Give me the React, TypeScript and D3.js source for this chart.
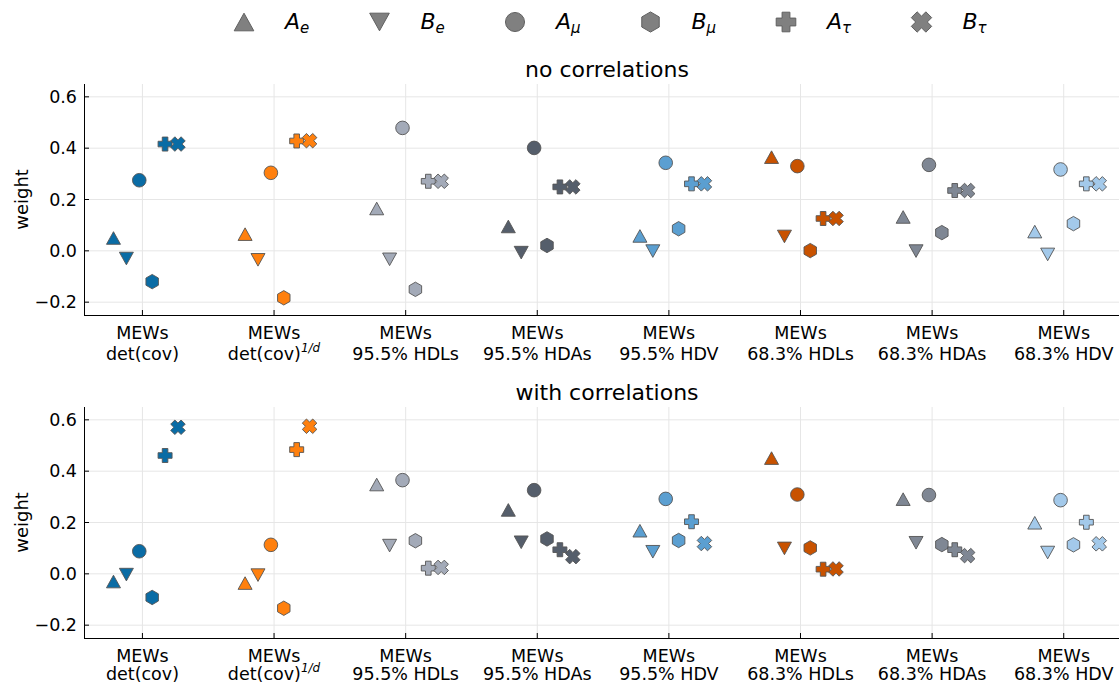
import React from 'react';
import * as d3 from 'd3';

// categories on the x axis (line 1 / line 2)
const categories = ['det(cov)', 'det(cov)^1/d', '95.5% HDLs', '95.5% HDAs', '95.5% HDV', '68.3% HDLs', '68.3% HDAs', '68.3% HDV'];
const groupColors = ['#0a6ca5', '#ff800e', '#a3aab8', '#555e6b', '#5b9fd1', '#c85200', '#7f8794', '#a3c9ea'];
const yTicks = [-0.2, 0.0, 0.2, 0.4, 0.6];

// series for "no correlations"
const aeNo = [0.05, 0.065, 0.165, 0.095, 0.058, 0.365, 0.132, 0.075];
const beNo = [-0.03, -0.035, -0.033, -0.007, -0.001, 0.056, -0.001, -0.014];
const amuNo = [0.275, 0.304, 0.479, 0.401, 0.343, 0.33, 0.335, 0.317];
const bmuNo = [-0.12, -0.183, -0.15, 0.021, 0.086, 0.001, 0.071, 0.106];
const atauNo = [0.416, 0.428, 0.271, 0.249, 0.261, 0.126, 0.235, 0.261];
const btauNo = [0.416, 0.429, 0.271, 0.249, 0.261, 0.126, 0.235, 0.261];

// series for "with correlations"
const aeWith = [-0.03, -0.036, 0.348, 0.249, 0.168, 0.451, 0.291, 0.199];
const beWith = [-0.003, -0.005, 0.11, 0.123, 0.086, 0.099, 0.121, 0.083];
const amuWith = [0.088, 0.113, 0.365, 0.326, 0.292, 0.309, 0.307, 0.287];
const bmuWith = [-0.092, -0.134, 0.129, 0.136, 0.13, 0.101, 0.114, 0.113];
const atauWith = [0.461, 0.484, 0.022, 0.094, 0.203, 0.018, 0.094, 0.201];
const btauWith = [0.571, 0.575, 0.025, 0.067, 0.118, 0.019, 0.071, 0.117];

const seriesNames = [
  { base: 'A', sub: 'e', shape: 'tri' },
  { base: 'B', sub: 'e', shape: 'dtri' },
  { base: 'A', sub: 'μ', shape: 'circle' },
  { base: 'B', sub: 'μ', shape: 'hex' },
  { base: 'A', sub: 'τ', shape: 'plus' },
  { base: 'B', sub: 'τ', shape: 'x' },
];

const panels = [
  { title: 'no correlations', top: 84, bottom: 315, label2: 45, series: [aeNo, beNo, amuNo, bmuNo, atauNo, btauNo] },
  { title: 'with correlations', top: 407, bottom: 638, label2: 42, series: [aeWith, beWith, amuWith, bmuWith, atauWith, btauWith] },
];

const FONT = 'DejaVu Sans, sans-serif';

function markerPath(shape: string, s: number): string {
  if (shape === 'tri') return `M0,${-6.3 * s}L${7 * s},${6.3 * s}L${-7 * s},${6.3 * s}Z`;
  if (shape === 'dtri') return `M0,${6.3 * s}L${7 * s},${-6.3 * s}L${-7 * s},${-6.3 * s}Z`;
  if (shape === 'circle') return d3.arc()({ innerRadius: 0, outerRadius: 6.8 * s, startAngle: 0, endAngle: 2 * Math.PI }) as string;
  if (shape === 'hex') {
    const pts = d3.range(6).map((k) => {
      const a = ((-90 + 60 * k) * Math.PI) / 180;
      return [Math.cos(a) * 7.2 * s, Math.sin(a) * 7.2 * s];
    });
    return 'M' + pts.map((p) => p.join(',')).join('L') + 'Z';
  }
  const a = 7 * s;
  const t = 2.8 * s;
  let pts = [
    [-t, -a], [t, -a], [t, -t], [a, -t], [a, t], [t, t], [t, a], [-t, a], [-t, t], [-a, t], [-a, -t], [-t, -t],
  ];
  if (shape === 'x') {
    const c = Math.SQRT1_2 * 1.05;
    pts = pts.map(([x, y]) => [(x - y) * c, (x + y) * c]);
  }
  return 'M' + pts.map((p) => p.join(',')).join('L') + 'Z';
}

const App = () => {
  const width = 1119;
  const height = 685;
  const left = 84;
  const right = 1119;

  const x = d3.scaleLinear().domain([-0.444, 7.42]).range([left, right]);
  const offsets = d3.range(6).map((k) => -0.22 + 0.098 * k);

  return (
    <svg width={width} height={height} style={{ position: 'absolute', left: 0, top: 0, background: '#fff' }} fontFamily={FONT}>
      {/* legend */}
      <g>
        {seriesNames.map((s, i) => {
          const cx = 244 + i * 135.5;
          return (
            <g key={i}>
              <path d={markerPath(s.shape, 1.4)} transform={`translate(${cx},22)`} fill="#808080" stroke="#606060" strokeWidth={1} />
              <text x={cx + 41} y={29} fontSize={22} fontStyle="italic" fill="#000">
                {s.base}
                <tspan fontSize={15} dy={4}>{s.sub}</tspan>
              </text>
            </g>
          );
        })}
      </g>

      {panels.map((p, pi) => {
        const y = d3.scaleLinear().domain([-0.25, 0.65]).range([p.bottom, p.top]);
        return (
          <g key={pi}>
            <text x={607} y={p.top - 7} fontSize={22} textAnchor="middle">{p.title}</text>
            {/* grid */}
            {yTicks.map((t) => (
              <line key={'gy' + t} x1={left} x2={right} y1={y(t)} y2={y(t)} stroke="#e6e6e6" strokeWidth={1} />
            ))}
            {categories.map((c, i) => (
              <line key={'gx' + i} x1={x(i)} x2={x(i)} y1={p.top} y2={p.bottom} stroke="#e6e6e6" strokeWidth={1} />
            ))}
            {/* axes */}
            <line x1={left + 0.5} x2={left + 0.5} y1={p.top} y2={p.bottom} stroke="#000" strokeWidth={1} />
            <line x1={left} x2={right} y1={p.bottom + 0.5} y2={p.bottom + 0.5} stroke="#000" strokeWidth={1} />
            {yTicks.map((t) => (
              <g key={'ty' + t}>
                <line x1={left} x2={left + 5} y1={y(t)} y2={y(t)} stroke="#000" />
                <text x={77} y={y(t) + 6} fontSize={17.5} textAnchor="end">
                  {t < 0 ? '\u2212' + Math.abs(t).toFixed(1) : t.toFixed(1)}
                </text>
              </g>
            ))}
            {categories.map((c, i) => {
              const [main, sup] = c.split('^');
              return (
                <g key={'tx' + i}>
                  <line x1={x(i)} x2={x(i)} y1={p.bottom} y2={p.bottom - 5} stroke="#000" />
                  <text x={x(i)} y={p.bottom + 24} fontSize={17.5} textAnchor="middle">MEWs</text>
                  <text x={x(i)} y={p.bottom + p.label2} fontSize={17.5} textAnchor="middle">
                    {main}
                    {sup && (
                      <tspan fontSize={12} dy={-8} fontStyle="italic">{sup}</tspan>
                    )}
                  </text>
                </g>
              );
            })}
            <text transform={`translate(28,${(p.top + p.bottom) / 2}) rotate(-90)`} fontSize={18} textAnchor="middle">weight</text>
            {/* markers */}
            {p.series.map((vals, si) =>
              vals.map((v, gi) => (
                <path
                  key={`m${si}-${gi}`}
                  d={markerPath(seriesNames[si].shape, 1)}
                  transform={`translate(${x(gi + offsets[si])},${y(v)})`}
                  fill={groupColors[gi]}
                  stroke="#555"
                  strokeWidth={0.9}
                />
              ))
            )}
          </g>
        );
      })}
    </svg>
  );
};

export default App;
